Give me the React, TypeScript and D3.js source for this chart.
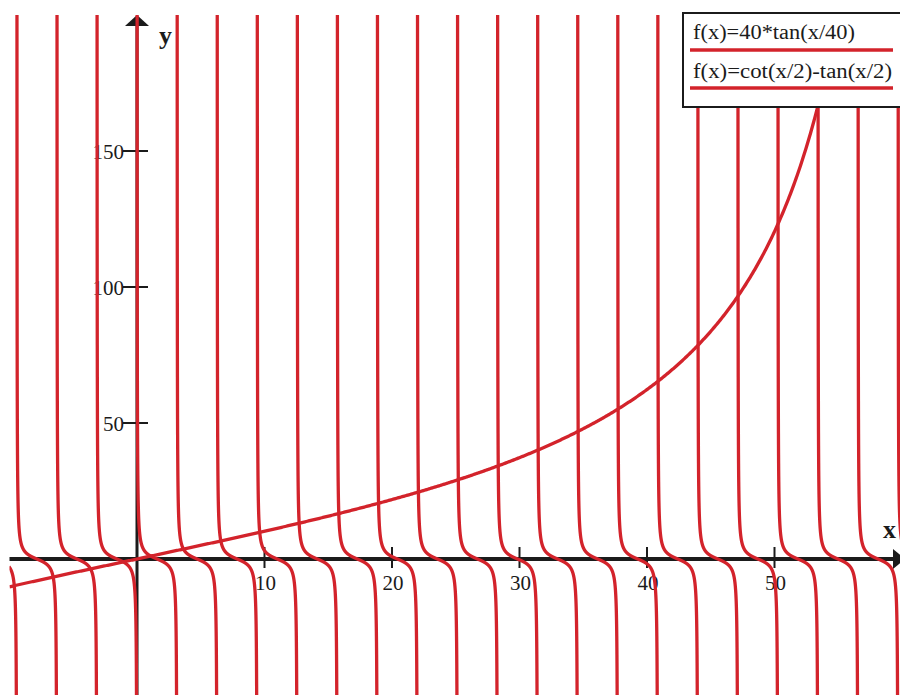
import React from "react";
import * as d3 from "d3";

// Plot window and axis ticks
const xDomain = [-10, 60];
const yDomain = [-50, 200];
const xTicks = [10, 20, 30, 40, 50];
const yTicks = [50, 100, 150];

// Series shown in the legend, each with the function it plots
const seriesLabels = ["f(x)=40*tan(x/40)", "f(x)=cot(x/2)-tan(x/2)"];
const seriesFns: ((x: number) => number)[] = [
  (x) => 40 * Math.tan(x / 40),
  (x) => 1 / Math.tan(x / 2) - Math.tan(x / 2),
];
// Spacing of the vertical asymptotes of the second series
const asymptoteStep = Math.PI;

const W = 900;
const H = 695;
const RED = "#d3232b";
const INK = "#1b1b1b";
const FONT = "'Liberation Serif', 'Times New Roman', serif";

export default function App() {
  const x = d3.scaleLinear().domain(xDomain).range([9.5, 902]);
  const y = d3.scaleLinear().domain(yDomain).range([695, 15]);
  const line = d3
    .line<[number, number]>()
    .x((d) => x(d[0]))
    .y((d) => y(Math.max(-400, Math.min(600, d[1]))));

  // Smooth curve across the whole window
  const tanPts: [number, number][] = d3
    .range(0, 801)
    .map((i) => xDomain[0] + ((xDomain[1] - xDomain[0]) * i) / 800)
    .map((v) => [v, seriesFns[0](v)]);

  // One branch per interval between neighbouring asymptotes
  const kStart = Math.floor(xDomain[0] / asymptoteStep);
  const kEnd = Math.ceil(xDomain[1] / asymptoteStep);
  const branches: [number, number][][] = [];
  for (let k = kStart; k < kEnd; k++) {
    const a = k * asymptoteStep;
    const pts: [number, number][] = [];
    const n = 700;
    for (let i = 0; i <= n; i++) {
      const t = 0.003 + ((asymptoteStep - 0.006) * i) / n;
      const xv = a + t;
      if (xv < xDomain[0] - 0.05 || xv > xDomain[1] + 0.05) continue;
      pts.push([xv, seriesFns[1](xv)]);
    }
    if (pts.length > 1) branches.push(pts);
  }

  const x0 = x(0);
  const y0 = y(0);

  return (
    <svg
      width={W}
      height={H}
      style={{ position: "absolute", left: 0, top: 0, background: "#fff" }}
    >
      <defs>
        <clipPath id="plot">
          <rect x={x(xDomain[0])} y={y(yDomain[1])} width={x(xDomain[1]) - x(xDomain[0])} height={y(yDomain[0]) - y(yDomain[1])} />
        </clipPath>
      </defs>
      <rect width={W} height={H} fill="#fff" />

      {/* axes */}
      <g>
        <line x1={x(xDomain[0])} x2={893} y1={y0} y2={y0} stroke={INK} strokeWidth={4} />
        <path d={`M893,${y0 - 10} L905,${y0} L893,${y0 + 10} Z`} fill={INK} />
        <line x1={x0} x2={x0} y1={H} y2={25} stroke={INK} strokeWidth={3} />
        <path d={`M${x0 - 12},26 L${x0},15 L${x0 + 12},26 Z`} fill={INK} />
        {xTicks.map((t) => (
          <g key={"xt" + t}>
            <line x1={x(t)} x2={x(t)} y1={y0 - 12} y2={y0 + 9} stroke={INK} strokeWidth={2} />
            <text x={x(t) + 1} y={y0 + 31} textAnchor="middle" fontFamily={FONT} fontSize={21} fill={INK}>
              {t}
            </text>
          </g>
        ))}
        {yTicks.map((t) => (
          <g key={"yt" + t}>
            <line x1={x0 - 14} x2={x0 + 11} y1={y(t)} y2={y(t)} stroke={INK} strokeWidth={2} />
            <text x={x0 - 13} y={y(t) + 8} textAnchor="end" fontFamily={FONT} fontSize={21} fill={INK}>
              {t}
            </text>
          </g>
        ))}
        <text x={159} y={44} fontFamily={FONT} fontWeight="bold" fontSize={26} fill={INK}>
          y
        </text>
        <text x={883} y={538} fontFamily={FONT} fontWeight="bold" fontSize={26} fill={INK}>
          x
        </text>
      </g>

      {/* curves */}
      <g clipPath="url(#plot)" fill="none" stroke={RED} strokeWidth={3.3} strokeLinejoin="round">
        {branches.map((b, i) => (
          <path key={"b" + i} d={line(b) || ""} />
        ))}
        <path d={line(tanPts) || ""} />
      </g>

      {/* legend */}
      <g>
        <rect x={683} y={13} width={225} height={94} fill="#fff" stroke={INK} strokeWidth={2} />
        {seriesLabels.map((s, i) => (
          <g key={"lg" + i}>
            <text
              x={693}
              y={39 + i * 39}
              fontFamily={FONT}
              fontSize={20}
              fill={INK}
              textLength={i === 0 ? 162 : 199}
              lengthAdjust="spacingAndGlyphs"
            >
              {s}
            </text>
            <line x1={690} x2={893} y1={50 + i * 38} y2={50 + i * 38} stroke={RED} strokeWidth={3.3} />
          </g>
        ))}
      </g>
    </svg>
  );
}
